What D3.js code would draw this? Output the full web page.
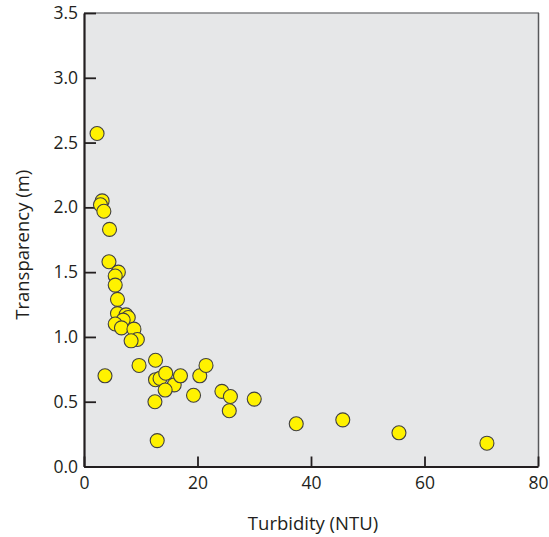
<!DOCTYPE html>
<html><head><meta charset="utf-8">
<script src="https://cdn.jsdelivr.net/npm/d3@7"></script>
<style>body{margin:0;background:#fff;} text{font-family:"Open Sans",sans-serif;fill:#231f20;}</style>
</head><body>
<svg id="c" width="549" height="537"></svg>
<script>
const turbidity = [2.3,3.2,2.9,3.5,4.5,4.4,6.05,5.5,5.5,5.9,5.9,7.4,7.8,6.9,5.5,6.6,8.8,9.4,8.3,3.7,9.7,12.6,12.6,13.4,14.4,15.9,17.0,14.3,12.5,12.9,19.3,20.4,21.5,24.3,25.8,25.6,30.0,37.4,45.6,55.5,71.0];
const transparency = [2.57,2.05,2.02,1.97,1.83,1.58,1.50,1.47,1.40,1.29,1.18,1.17,1.15,1.13,1.10,1.07,1.06,0.98,0.97,0.70,0.78,0.82,0.67,0.68,0.72,0.63,0.70,0.59,0.50,0.20,0.55,0.70,0.78,0.58,0.54,0.43,0.52,0.33,0.36,0.26,0.18];
const xTicks = [0,20,40,60,80];
const yTicks = [0,0.5,1.0,1.5,2.0,2.5,3.0,3.5];
const xTitle = "Turbidity (NTU)";
const yTitle = "Transparency (m)";

const svg = d3.select("#c");
const L=84, R=538, T=13, B=466.5;
const x = d3.scaleLinear().domain([0,80]).range([L,R]);
const y = d3.scaleLinear().domain([0,3.5]).range([B,T]);

svg.append("rect").attr("x",L).attr("y",T).attr("width",R-L).attr("height",B-T).attr("fill","#e6e7e8");
svg.append("line").attr("x1",L).attr("x2",R+1).attr("y1",T).attr("y2",T).attr("stroke","#808285").attr("stroke-width",1.5);
svg.append("line").attr("x1",R+0.5).attr("x2",R+0.5).attr("y1",T).attr("y2",B).attr("stroke","#58595b").attr("stroke-width",1.5);

const xa = svg.append("g").attr("transform",`translate(0,${B})`)
  .call(d3.axisBottom(x).tickValues(xTicks).tickSizeInner(-10).tickSizeOuter(0).tickPadding(18).tickFormat(d3.format("d")));
const ya = svg.append("g").attr("transform",`translate(${L},0)`)
  .call(d3.axisLeft(y).tickValues(yTicks).tickSizeInner(-12).tickSizeOuter(0).tickPadding(18).tickFormat(d3.format(".1f")));
[xa,ya].forEach(a=>{
  a.select(".domain").attr("stroke","#231f20").attr("stroke-width",2.2);
  a.selectAll(".tick line").attr("stroke","#231f20").attr("stroke-width",1.8);
  a.selectAll(".tick text").attr("font-size",17.5).attr("fill","#231f20").style("font-family","'Open Sans',sans-serif");
});
ya.selectAll(".tick text").attr("x",-6);
xa.selectAll(".tick text").attr("y",10);

svg.append("text").attr("x",313).attr("y",530).attr("text-anchor","middle").attr("font-size",18.5).text(xTitle);
svg.append("text").attr("transform",`translate(29,${(T+B)/2+5}) rotate(-90)`).attr("text-anchor","middle").attr("font-size",18.5).text(yTitle);

svg.append("g").selectAll("circle").data(turbidity.map((t,i)=>[t,transparency[i]])).join("circle")
  .attr("cx",d=>x(d[0])).attr("cy",d=>y(d[1])).attr("r",7)
  .attr("fill","#fff200").attr("stroke","#414042").attr("stroke-width",1.1);
</script>
</body></html>
